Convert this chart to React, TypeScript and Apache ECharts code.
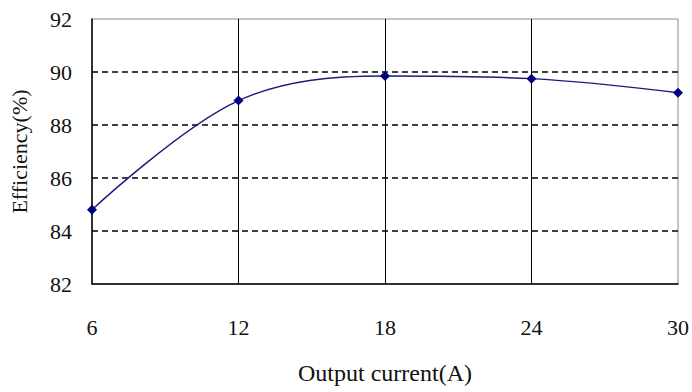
import React, { useEffect, useRef } from "react";
import * as echarts from "echarts";

const currents = [6, 12, 18, 24, 30];
const efficiency = [84.8, 88.92, 89.85, 89.75, 89.22];
const xTicks = { min: 6, max: 30, interval: 6 };
const yTicks = { min: 82, max: 92, interval: 2 };

const FONT = "'Liberation Serif', 'DejaVu Serif', serif";

export default function App() {
  const ref = useRef<HTMLDivElement>(null);
  useEffect(() => {
    if (!ref.current) return;
    const chart = echarts.init(ref.current, null, { renderer: "svg" });
    chart.setOption({
      animation: false,
      backgroundColor: "#ffffff",
      grid: {
        left: 92,
        right: 13,
        top: 19,
        bottom: 108,
        show: true,
        borderColor: "#8a8a8a",
        borderWidth: 1,
        backgroundColor: "transparent",
      },
      xAxis: {
        type: "value",
        min: xTicks.min,
        max: xTicks.max,
        interval: xTicks.interval,
        name: "Output current(A)",
        nameLocation: "middle",
        nameGap: 77,
        nameTextStyle: { fontFamily: FONT, fontSize: 24, color: "#111" },
        axisLine: { show: true, lineStyle: { color: "#000", width: 1.5 } },
        axisTick: { show: false },
        axisLabel: { margin: 32, fontFamily: FONT, fontSize: 22, color: "#111" },
        splitLine: {
          show: true,
          showMinLine: false,
          showMaxLine: false,
          lineStyle: { color: "#000", width: 1, type: "solid" },
        },
      },
      yAxis: {
        type: "value",
        min: yTicks.min,
        max: yTicks.max,
        interval: yTicks.interval,
        name: "Efficiency(%)",
        nameLocation: "middle",
        nameGap: 62,
        nameTextStyle: { fontFamily: FONT, fontSize: 22, color: "#111" },
        axisLine: { show: true, lineStyle: { color: "#000", width: 1.5 } },
        axisTick: { show: false },
        axisLabel: { margin: 20, fontFamily: FONT, fontSize: 22, color: "#111" },
        splitLine: {
          show: true,
          showMinLine: false,
          showMaxLine: false,
          lineStyle: { color: "#000", width: 1.5, type: [6, 4] },
        },
      },
      series: [
        {
          type: "line",
          data: currents.map((c, i) => [c, efficiency[i]]),
          smooth: 0.35,
          symbol: "diamond",
          symbolSize: 10,
          lineStyle: { color: "#1c1c7a", width: 1.5 },
          itemStyle: { color: "#000080" },
        },
      ],
    });
    return () => chart.dispose();
  }, []);
  return (
    <div
      ref={ref}
      style={{ position: "absolute", left: 0, top: 0, width: 692, height: 392 }}
    />
  );
}
